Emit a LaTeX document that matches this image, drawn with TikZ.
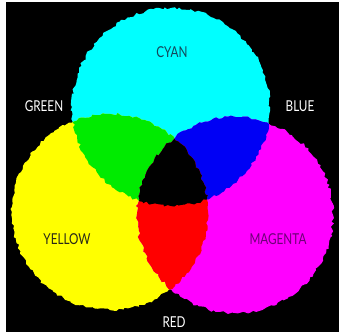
\documentclass[tikz,border=0pt]{standalone}
\usepackage{fontspec}
\setmainfont{Lato}[FakeStretch=0.78]
\usetikzlibrary{decorations.pathmorphing}

\definecolor{cyanink}{RGB}{0,255,255}
\definecolor{yellowink}{RGB}{255,255,0}
\definecolor{magentaink}{RGB}{255,0,255}
\definecolor{greenink}{RGB}{0,235,0}
\definecolor{blueink}{RGB}{0,0,245}
\definecolor{redink}{RGB}{255,0,0}
\definecolor{cyantext}{RGB}{20,70,90}
\definecolor{yellowtext}{RGB}{40,40,25}
\definecolor{magentatext}{RGB}{110,0,120}

\begin{document}
\begin{tikzpicture}[x=1pt, y=-1pt,
  rough/.style={decorate, decoration={random steps, segment length=3pt, amplitude=1.5pt}},
  lbl/.style={font=\fontsize{15}{15}\selectfont, inner sep=0pt, text=white},
]
\useasboundingbox (0,0) rectangle (339,334);
\fill[white] (0,0) rectangle (339,334);
\fill[black] (6,2) rectangle (339,332);
% the three primaries
\pgfmathsetseed{11}\fill[cyanink, rough] (171,107) circle[radius=99];
\pgfmathsetseed{22}\fill[yellowink, rough] (110,212) circle[radius=98];
\pgfmathsetseed{33}\fill[magentaink, rough] (235,215) circle[radius=98];
% cyan + yellow
\begin{scope}
  \pgfmathsetseed{11}\clip[rough] (171,107) circle[radius=99];
  \pgfmathsetseed{22}\fill[greenink, rough] (110,212) circle[radius=98];
\end{scope}
% cyan + magenta
\begin{scope}
  \pgfmathsetseed{11}\clip[rough] (171,107) circle[radius=99];
  \pgfmathsetseed{33}\fill[blueink, rough] (235,215) circle[radius=98];
\end{scope}
% yellow + magenta
\begin{scope}
  \pgfmathsetseed{22}\clip[rough] (110,212) circle[radius=98];
  \pgfmathsetseed{33}\fill[redink, rough] (235,215) circle[radius=98];
\end{scope}
% all three
\begin{scope}
  \pgfmathsetseed{11}\clip[rough] (171,107) circle[radius=99];
  \pgfmathsetseed{22}\clip[rough] (110,212) circle[radius=98];
  \pgfmathsetseed{33}\fill[black, rough] (235,215) circle[radius=98];
\end{scope}
% labels
\node[lbl, text=cyantext] (cyan) at (172,52) {CYAN};
\node[lbl] (green) at (44,106) {GREEN};
\node[lbl] (blue) at (300,106) {BLUE};
\node[lbl, text=yellowtext] (yellow) at (67,239) {YELLOW};
\node[lbl, text=magentatext] (magenta) at (278,239) {MAGENTA};
\node[lbl] (red) at (174,322) {RED};
\end{tikzpicture}
\end{document}
